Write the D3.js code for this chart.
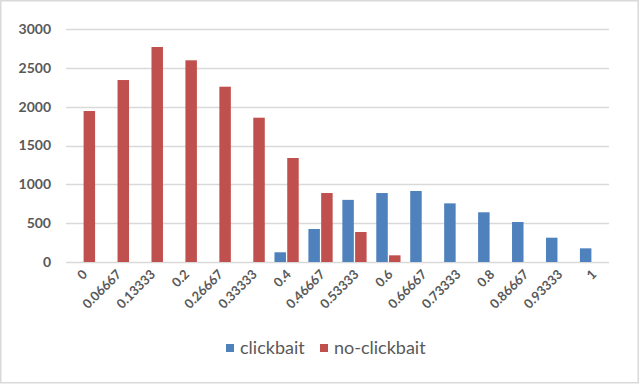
<!DOCTYPE html>
<html>
<head>
<meta charset="utf-8">
<script src="https://cdn.jsdelivr.net/npm/d3@7"></script>
<style>
  body { margin: 0; background: #fff; }
  svg { display: block; font-family: Lato, "Open Sans", sans-serif; }
</style>
</head>
<body>
<script>
// category labels along the x axis
const categories = ["0", "0.06667", "0.13333", "0.2", "0.26667", "0.33333", "0.4", "0.46667",
    "0.53333", "0.6", "0.66667", "0.73333", "0.8", "0.86667", "0.93333", "1"];
// counts (0 = no bar)
const clickbait = [0, 0, 0, 0, 0, 0, 125, 425, 800, 888, 914, 755, 640, 515, 313, 176];
const noClickbait = [1944, 2343, 2768, 2597, 2257, 1858, 1339, 888, 386, 86, 0, 0, 0, 0, 0, 0];
const yTicks = [0, 500, 1000, 1500, 2000, 2500, 3000];
const seriesNames = ["clickbait", "no-clickbait"];
const colors = ["#4F81BD", "#C0504D"];

function main() {
    const width = 640, height = 386;
    const margin = {left: 66, right: 31, top: 29, bottom: 124};

    const svg = d3.select("body").append("svg")
        .attr("width", width)
        .attr("height", height);

    // chart border
    svg.append("rect")
        .attr("x", 0.75).attr("y", 0.75)
        .attr("width", 637.5).attr("height", 382)
        .attr("fill", "none")
        .attr("stroke", "#D9D9D9")
        .attr("stroke-width", 1.5);

    const x = d3.scaleBand()
        .domain(categories)
        .range([margin.left, width - margin.right]);

    const xInner = d3.scaleBand()
        .domain(seriesNames)
        .range([0, x.bandwidth()])
        .paddingInner(0.1)
        .paddingOuter(0.38);

    const y = d3.scaleLinear()
        .domain([0, 3000])
        .range([height - margin.bottom, margin.top]);

    // gridlines
    svg.append("g")
        .selectAll("line")
        .data(yTicks)
        .join("line")
        .attr("x1", margin.left)
        .attr("x2", width - margin.right)
        .attr("y1", d => Math.round(y(d)) + 0.5)
        .attr("y2", d => Math.round(y(d)) + 0.5)
        .attr("stroke", "#D9D9D9")
        .attr("stroke-width", 1.5);

    // y tick labels
    svg.append("g")
        .selectAll("text")
        .data(yTicks)
        .join("text")
        .attr("x", 51)
        .attr("y", d => y(d))
        .attr("dy", "0.35em")
        .attr("text-anchor", "end")
        .attr("font-size", 14)
        .attr("font-weight", "bold")
        .attr("fill", "#595959")
        .text(d => d);

    const rows = categories.map((c, i) => ({cat: c, values: [clickbait[i], noClickbait[i]]}));

    const group = svg.append("g")
        .selectAll("g")
        .data(rows)
        .join("g")
        .attr("transform", d => `translate(${x(d.cat)},0)`);

    group.selectAll("rect")
        .data(d => d.values.map((v, j) => ({name: seriesNames[j], value: v, color: colors[j]})))
        .join("rect")
        .filter(d => d.value > 0)
        .attr("x", d => xInner(d.name))
        .attr("width", xInner.bandwidth())
        .attr("y", d => y(d.value))
        .attr("height", d => y(0) - y(d.value))
        .attr("fill", d => d.color);

    // rotated x labels
    svg.append("g")
        .selectAll("text")
        .data(categories)
        .join("text")
        .attr("transform", d => `translate(${x(d) + x.bandwidth() / 2 + 2},${y(0) + 10}) rotate(-45)`)
        .attr("dy", "0.35em")
        .attr("text-anchor", "end")
        .attr("font-size", 13)
        .attr("font-weight", "bold")
        .attr("fill", "#595959")
        .text(d => d);

    // legend
    const legendX = [226, 320];
    const legend = svg.append("g")
        .selectAll("g")
        .data(seriesNames)
        .join("g")
        .attr("transform", (d, i) => `translate(${legendX[i]},344)`);

    legend.append("rect")
        .attr("width", 8).attr("height", 8)
        .attr("fill", (d, i) => colors[i]);

    legend.append("text")
        .attr("x", 14)
        .attr("y", 4)
        .attr("dy", "0.35em")
        .attr("font-size", 18)
        .attr("fill", "#595959")
        .text(d => d);
}

main();
</script>
</body>
</html>
